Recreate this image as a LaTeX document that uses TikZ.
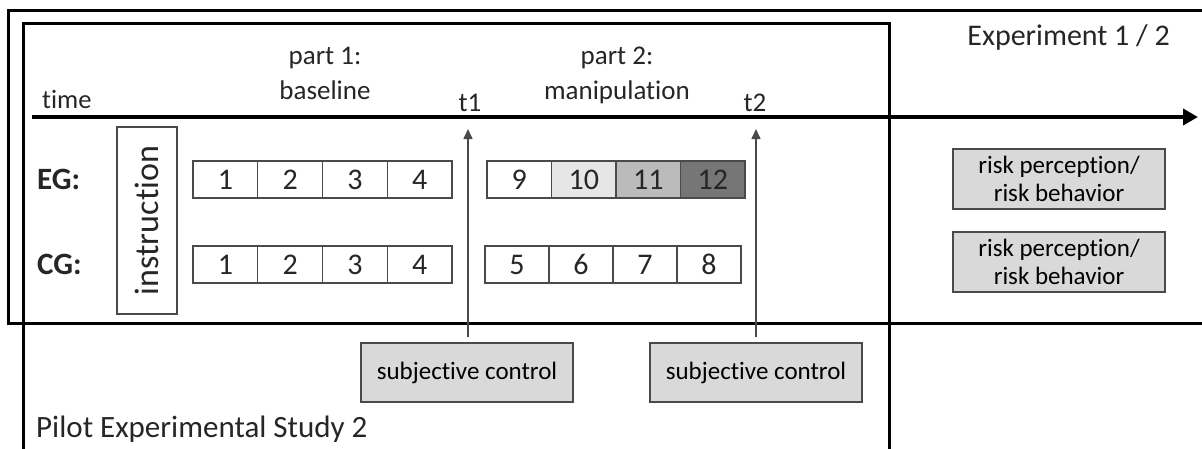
\documentclass[tikz,border=0pt]{standalone}
\usepackage{fontspec}
\setmainfont[Ligatures=NoCommon]{Carlito}
\usetikzlibrary{arrows.meta}
\definecolor{txt}{HTML}{262626}
\definecolor{edge}{HTML}{4A4A4A}
\definecolor{boxfill}{HTML}{D9D9D9}
\definecolor{gA}{HTML}{E6E6E6}
\definecolor{gB}{HTML}{BBBBBB}
\definecolor{gC}{HTML}{767676}
\tikzset{
  frame/.style={draw=black, line width=3pt},
  cell/.style={draw=edge, line width=1.3pt, minimum width=64.75pt, minimum height=37pt, inner sep=0pt, text=txt, font=\fontsize{30}{32}\selectfont},
  graybox/.style={draw=edge, fill=boxfill, line width=1.5pt, minimum width=212pt, inner sep=0pt, text=black, align=center, font=\fontsize{25}{28}\selectfont},
  lbl/.style={inner sep=0pt, text=txt},
  tarrow/.style={draw=edge, line width=1.5pt, -{Triangle[length=10pt,width=9pt]}},
}
\begin{document}
\begin{tikzpicture}[x=1pt,y=-1pt]
\useasboundingbox (0,0) rectangle (1202,448);
\clip (0,0) rectangle (1202,448);
\fill[white] (0,0) rectangle (1202,448);
% frames
\draw[frame] (8,10) rectangle (1220,323);
\draw[frame] (23,23) rectangle (889,470);
% timeline
\coordinate (tl0) at (32,117);
\coordinate (tl1) at (1198,117);
\draw[line width=4pt, -{Triangle[length=15pt,width=16pt]}] (tl0) -- (tl1);
% header texts
\node[lbl, anchor=base west, font=\fontsize{26.5}{30}\selectfont] (time) at (42,108) {time};
\node[lbl, anchor=base, align=center, font=\fontsize{27}{35}\selectfont] (p1) at (325,99) {part 1:\\baseline};
\node[lbl, anchor=base, align=center, font=\fontsize{27}{35}\selectfont] (p2) at (617,99) {part 2:\\manipulation};
\node[lbl, anchor=base, font=\fontsize{27}{30}\selectfont] (t1) at (470,111) {t1};
\node[lbl, anchor=base, font=\fontsize{27}{30}\selectfont] (t2) at (755,111) {t2};
\node[lbl, anchor=base east, font=\fontsize{30}{34}\selectfont] (exp) at (1170,45) {Experiment 1 / 2};
\node[lbl, anchor=base west, font=\fontsize{31}{34}\selectfont] (pilot) at (36,437) {Pilot Experimental Study 2};
% group labels
\node[lbl, anchor=west, font=\fontsize{31}{34}\selectfont\bfseries] (eg) at (37,179.5) {EG:};
\node[lbl, anchor=west, font=\fontsize{31}{34}\selectfont\bfseries] (cg) at (37,264.5) {CG:};
% instruction
\node[draw=edge, line width=1.3pt, rotate=90, minimum width=187pt, minimum height=60pt, inner sep=0pt, text=txt, font=\fontsize{34}{36}\selectfont] (instr) at (147,220.5) {instruction};
% EG cells
\node[cell] (e1) at (225.4,179.5) {1};
\node[cell] (e2) at (290.1,179.5) {2};
\node[cell] (e3) at (354.9,179.5) {3};
\node[cell] (e4) at (419.6,179.5) {4};
\node[cell, minimum width=64.5pt] (e9) at (519.3,179.5) {9};
\node[cell, minimum width=64.5pt, fill=gA] (e10) at (583.8,179.5) {10};
\node[cell, minimum width=64.5pt, fill=gB] (e11) at (648.3,179.5) {11};
\node[cell, minimum width=64.5pt, fill=gC] (e12) at (712.8,179.5) {12};
% CG cells
\node[cell] (c1) at (225.4,264.5) {1};
\node[cell] (c2) at (290.1,264.5) {2};
\node[cell] (c3) at (354.9,264.5) {3};
\node[cell] (c4) at (419.6,264.5) {4};
\node[cell, minimum width=64pt] (c5) at (517,264.5) {5};
\node[cell, minimum width=64pt] (c6) at (581,264.5) {6};
\node[cell, minimum width=64pt] (c7) at (645,264.5) {7};
\node[cell, minimum width=64pt] (c8) at (709,264.5) {8};
% risk boxes
\node[graybox, minimum height=60pt] (r1) at (1059,179) {risk perception/\\risk behavior};
\node[graybox, minimum height=60pt] (r2) at (1059,262) {risk perception/\\risk behavior};
% subjective control boxes
\node[graybox, minimum height=59pt] (s1) at (467,372.5) {subjective control};
\node[graybox, minimum height=59pt] (s2) at (756,372.5) {subjective control};
% measurement arrows
\coordinate (a1) at (468,129);
\coordinate (a2) at (756,129);
\draw[tarrow] ([xshift=1pt,yshift=5pt]s1.north) -- (a1);
\draw[tarrow] ([yshift=5pt]s2.north) -- (a2);
\end{tikzpicture}
\end{document}
